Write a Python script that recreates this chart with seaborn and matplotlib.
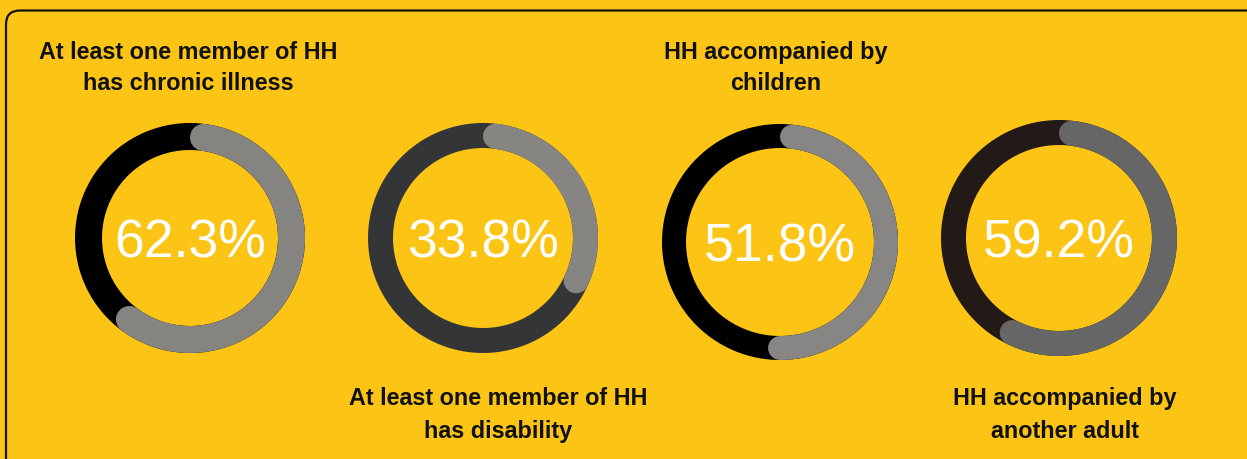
import numpy as np
import pandas as pd
import matplotlib
matplotlib.use("Agg")
import matplotlib.pyplot as plt
from matplotlib.patches import FancyBboxPatch
import seaborn as sns

# ---- data ----
values = [62.3, 33.8, 51.8, 59.2]
label_line1 = ["At least one member of HH", "At least one member of HH",
               "HH accompanied by", "HH accompanied by"]
label_line2 = ["has chronic illness", "has disability", "children", "another adult"]
label_pos = ["top", "bottom", "top", "bottom"]
arc_colors = ["#858481", "#868582", "#878684", "#666666"]
ring_colors = ["#000000", "#343537", "#000000", "#231916"]

# ---- layout (pixels) ----
W, H = 1247, 459
centers = [(190, 238), (483, 238), (780, 242), (1059, 238)]
outer_r = [115, 115, 118, 118]
ring_w = [27, 25, 24, 25]
pct_baseline = [257, 258, 262, 258]
label_x = [188, 498, 776, 1065]
bg = "#FCC515"

sns.set_style("white")
plt.rcParams["font.family"] = ["Liberation Sans", "DejaVu Sans"]

fig = plt.figure(figsize=(W / 100, H / 100), dpi=100, facecolor=bg)
ax = fig.add_axes([0, 0, 1, 1])
ax.set_facecolor(bg)
ax.set_xlim(0, W)
ax.set_ylim(H, 0)
ax.axis("off")

# frame
frame = FancyBboxPatch((6, 10.5), 1270, 470, boxstyle="round,pad=0,rounding_size=14",
                       facecolor=bg, edgecolor="#111111", linewidth=1.6, zorder=0)
ax.add_patch(frame)

px2pt = 72 / 100

for i, v in enumerate(values):
    cx, cy = centers[i]
    w = ring_w[i]
    r = outer_r[i] - w / 2
    # full ring
    t = np.linspace(0, 2 * np.pi, 400)
    ring = pd.DataFrame({"x": cx + r * np.sin(t), "y": cy - r * np.cos(t)})
    sns.lineplot(data=ring, x="x", y="y", sort=False, estimator=None, ax=ax,
                 color=ring_colors[i], linewidth=w * px2pt, zorder=2)
    # value arc with round caps
    cap = (w / 2) / r
    t = np.linspace(cap, 2 * np.pi * v / 100 - cap, 300)
    arc = pd.DataFrame({"x": cx + r * np.sin(t), "y": cy - r * np.cos(t)})
    sns.lineplot(data=arc, x="x", y="y", sort=False, estimator=None, ax=ax,
                 color=arc_colors[i], linewidth=w * px2pt, zorder=3,
                 solid_capstyle="round")
    # percent text
    ax.text(cx, pct_baseline[i], f"{v:.1f}%", ha="center", va="baseline",
            color="white", fontsize=38.5, zorder=4)
    # labels
    if label_pos[i] == "top":
        b1, b2 = 59, 90
    else:
        b1, b2 = 405, 438
    ax.text(label_x[i], b1, label_line1[i], ha="center", va="baseline",
            fontsize=16.8, fontweight="bold", color="#111111")
    ax.text(label_x[i], b2, label_line2[i], ha="center", va="baseline",
            fontsize=16.8, fontweight="bold", color="#111111")

fig.savefig("out.png", dpi=100, facecolor=bg)
